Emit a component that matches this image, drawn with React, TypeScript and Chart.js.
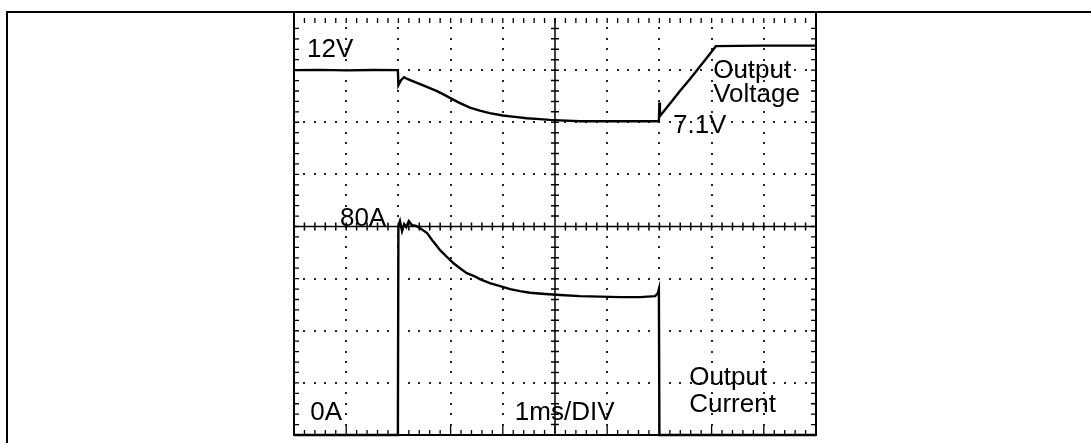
import { useEffect, useRef } from "react";
import { Chart, registerables } from "chart.js";

Chart.register(...registerables);

// Time base: 1 ms / division, 10 divisions
const X_MIN = 0;
const X_MAX = 10;
// Voltage channel: 5 V / division (12 V sits on division 7)
const V_MIN = -23;
const V_MAX = 17;
// Current channel: 20 A / division (0 A on the bottom line)
const I_MIN = 0;
const I_MAX = 160;

// Output voltage trace (ms, V)
const timeV = [
  0, 0.5, 1.0, 1.5, 1.99, 2.0, 2.05, 2.11, 2.18, 2.32, 2.51, 2.74, 2.89, 3.03,
  3.18, 3.37, 3.56, 3.75, 4.0, 4.23, 4.46, 4.71, 4.9, 5.1, 5.48, 5.86, 6.25,
  6.63, 6.99, 7.0, 7.01, 7.2, 7.39, 7.59, 7.78, 7.97, 8.08, 8.5, 9.0, 9.5, 10,
];
const voltage = [
  12, 12.02, 11.98, 12.01, 12, 10.56, 11.04, 11.32, 11.13, 10.85, 10.46, 9.98,
  9.6, 9.22, 8.83, 8.4, 8.11, 7.87, 7.65, 7.51, 7.39, 7.3, 7.23, 7.18, 7.1,
  7.1, 7.1, 7.1, 7.1, 8.9, 7.6, 8.78, 9.98, 11.18, 12.38, 13.58, 14.3, 14.33,
  14.35, 14.35, 14.35,
];

// Output current trace (ms, A)
const timeI = [
  0, 1.99, 2.0, 2.03, 2.07, 2.11, 2.15, 2.2, 2.26, 2.34, 2.41, 2.55, 2.66, 2.8,
  2.93, 3.05, 3.18, 3.31, 3.45, 3.56, 3.75, 3.95, 4.14, 4.33, 4.52, 4.81, 5.1,
  5.48, 5.86, 6.25, 6.63, 6.92, 6.97, 6.99, 7.0, 10,
];
const current = [
  0, 0, 80.2, 82.1, 78.2, 80.9, 79.8, 82.1, 80.5, 80.2, 79.4, 77.5, 74.4, 70.9,
  68.3, 66.0, 64.0, 62.1, 61.0, 59.8, 58.3, 57.1, 56.0, 55.2, 54.6, 54.1, 53.7,
  53.3, 53.1, 52.9, 52.9, 53.3, 54.5, 56.0, 0, 0,
];

// Annotation texts, anchored in data units (ms, and V or A)
const voltageLabels = [
  { text: "12V", t: 0.25, v: 13.25 },
  { text: "Output", t: 8.03, v: 11.23 },
  { text: "Voltage", t: 8.03, v: 8.93 },
  { text: "7.1V", t: 7.26, v: 5.95 },
];
const currentLabels = [
  { text: "80A", t: 0.88, a: 80.2 },
  { text: "0A", t: 0.31, a: 5.75 },
  { text: "1ms/DIV", t: 4.23, a: 5.75 },
  { text: "Output", t: 7.57, a: 19.2 },
  { text: "Current", t: 7.57, a: 8.8 },
];

const X_DIVS = 10;
const Y_DIVS = 8;

const graticule = {
  id: "graticule",
  beforeDatasetsDraw(chart: any) {
    const { ctx, chartArea } = chart;
    const { left, right, top, bottom } = chartArea;
    const dx = (right - left) / X_DIVS;
    const dy = (bottom - top) / Y_DIVS;
    ctx.save();
    ctx.fillStyle = "#000";
    // outer frame (top and left)
    ctx.fillRect(6, 11, chart.width - 6, 2);
    ctx.fillRect(6, 11, 2, chart.height - 11);

    // dotted grid
    ctx.fillStyle = "#222";
    for (let i = 1; i < X_DIVS; i++) {
      if (i === X_DIVS / 2) continue;
      const x = left + i * dx;
      for (let k = 1; k < Y_DIVS * 5; k++) {
        const y = top + (k * dy) / 5;
        ctx.fillRect(Math.round(x) - 1, Math.round(y) - 1, 2, 2);
      }
    }
    for (let j = 1; j < Y_DIVS; j++) {
      if (j === Y_DIVS / 2) continue;
      const y = top + j * dy;
      for (let k = 1; k < X_DIVS * 5; k++) {
        const x = left + (k * dx) / 5;
        ctx.fillRect(Math.round(x) - 1, Math.round(y) - 1, 2, 2);
      }
    }

    ctx.strokeStyle = "#000";
    // centre cross
    const cx = left + (X_DIVS / 2) * dx;
    const cy = top + (Y_DIVS / 2) * dy;
    ctx.lineWidth = 1.5;
    ctx.beginPath();
    ctx.moveTo(cx, top);
    ctx.lineTo(cx, bottom);
    ctx.moveTo(left, cy);
    ctx.lineTo(right, cy);
    for (let k = 1; k < X_DIVS * 5; k++) {
      const x = left + (k * dx) / 5;
      ctx.moveTo(x, cy - 4);
      ctx.lineTo(x, cy + 4);
    }
    for (let k = 1; k < Y_DIVS * 5; k++) {
      const y = top + (k * dy) / 5;
      ctx.moveTo(cx - 4, y);
      ctx.lineTo(cx + 4, y);
    }
    ctx.stroke();

    // plot frame: left, right, bottom
    ctx.lineWidth = 2;
    ctx.beginPath();
    ctx.moveTo(left, 13);
    ctx.lineTo(left, bottom);
    ctx.lineTo(right, bottom);
    ctx.lineTo(right, 13);
    ctx.stroke();

    // border ticks
    ctx.lineWidth = 1.3;
    ctx.beginPath();
    for (let k = 1; k < Y_DIVS * 5; k++) {
      const y = top + (k * dy) / 5;
      ctx.moveTo(left, y);
      ctx.lineTo(left + 5, y);
      ctx.moveTo(right, y);
      ctx.lineTo(right - 5, y);
    }
    for (let k = 1; k < X_DIVS * 5; k++) {
      const x = left + (k * dx) / 5;
      const len = k % 5 === 0 ? 9 : 5;
      ctx.moveTo(x, bottom);
      ctx.lineTo(x, bottom - len);
      ctx.moveTo(x, top);
      ctx.lineTo(x, top + 5);
    }
    ctx.stroke();
    ctx.restore();
  },
  afterDatasetsDraw(chart: any) {
    const { ctx, scales } = chart;
    const xs = scales.x;
    const yv = scales.yV;
    const yi = scales.yI;
    ctx.save();
    ctx.fillStyle = "#000";
    ctx.font = '26px "Liberation Sans", Arial, sans-serif';
    ctx.textAlign = "left";
    ctx.textBaseline = "alphabetic";
    for (const l of voltageLabels) {
      ctx.fillText(l.text, xs.getPixelForValue(l.t), yv.getPixelForValue(l.v));
    }
    for (const l of currentLabels) {
      ctx.fillText(l.text, xs.getPixelForValue(l.t), yi.getPixelForValue(l.a));
    }
    ctx.restore();
  },
};

export default function App() {
  const ref = useRef<HTMLCanvasElement | null>(null);
  useEffect(() => {
    if (!ref.current) return;
    const chart = new Chart(ref.current, {
      type: "line",
      data: {
        datasets: [
          {
            label: "Output Voltage",
            data: timeV.map((t, i) => ({ x: t, y: voltage[i] })),
            yAxisID: "yV",
            borderColor: "#000",
            borderWidth: 2.4,
            pointRadius: 0,
            tension: 0,
            fill: false,
            clip: false as any,
          },
          {
            label: "Output Current",
            data: timeI.map((t, i) => ({ x: t, y: current[i] })),
            yAxisID: "yI",
            borderColor: "#000",
            borderWidth: 2.4,
            pointRadius: 0,
            tension: 0,
            fill: false,
            clip: false as any,
          },
        ],
      },
      options: {
        animation: false,
        responsive: false,
        events: [],
        layout: { padding: { left: 294, right: 275, top: 18, bottom: 8 } },
        plugins: { legend: { display: false }, tooltip: { enabled: false } },
        scales: {
          x: { type: "linear", min: X_MIN, max: X_MAX, display: false },
          yV: { type: "linear", min: V_MIN, max: V_MAX, display: false },
          yI: { type: "linear", min: I_MIN, max: I_MAX, display: false },
        },
      },
      plugins: [graticule],
    });
    return () => chart.destroy();
  }, []);
  return (
    <div style={{ position: "fixed", left: 0, top: 0, width: 1091, height: 443, background: "#fff" }}>
      <canvas ref={ref} width={1091} height={443} style={{ display: "block" }} />
    </div>
  );
}
